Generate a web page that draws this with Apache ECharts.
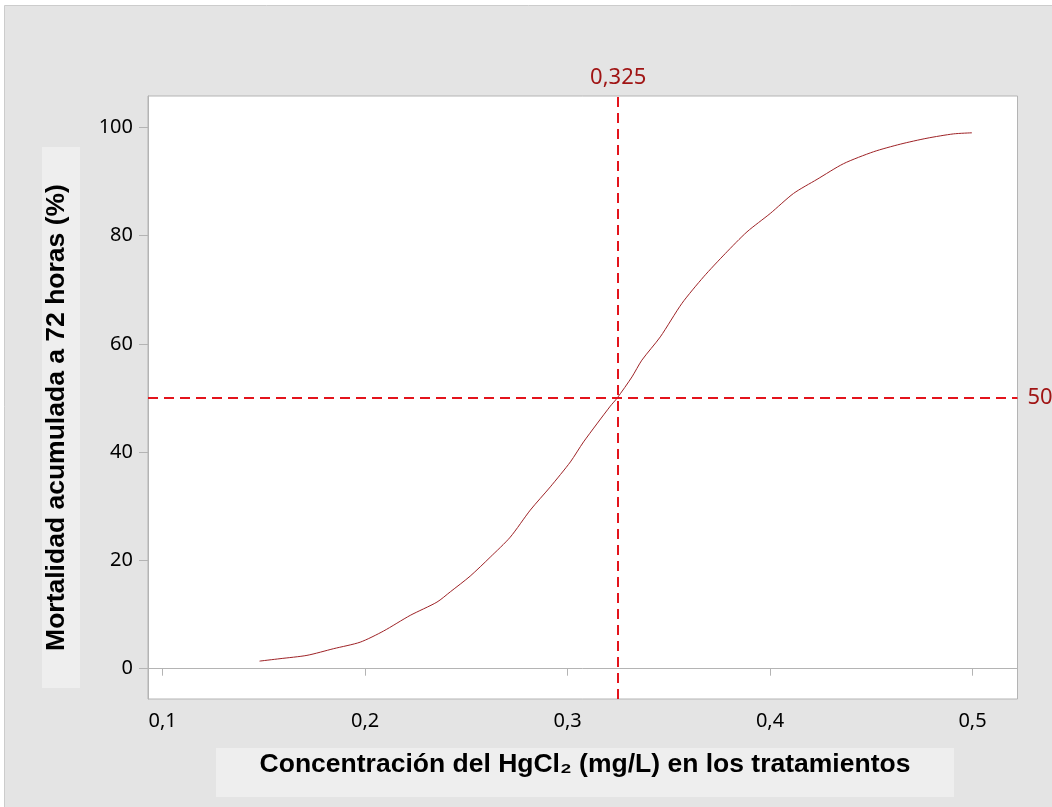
<!DOCTYPE html>
<html>
<head>
<meta charset="utf-8">
<script src="https://cdn.jsdelivr.net/npm/echarts@6/dist/echarts.min.js"></script>
<style>
html,body{margin:0;padding:0;background:#ffffff;}
#chart{width:1052px;height:807px;}
</style>
</head>
<body>
<div id="chart"></div>
<script>
// Data
const concentration = [0.1479, 0.158, 0.1713, 0.1845, 0.1976, 0.2091, 0.2223, 0.2355, 0.2421, 0.2519, 0.2618, 0.2717, 0.2816, 0.2915, 0.3014, 0.3079, 0.3211, 0.3245, 0.3318, 0.3367, 0.3458, 0.3565, 0.3672, 0.3779, 0.3886, 0.4001, 0.4116, 0.4232, 0.4363, 0.4511, 0.4643, 0.4775, 0.4906, 0.4997];
const mortality = [1.4, 1.85, 2.46, 3.7, 4.9, 6.95, 9.85, 12.3, 14.2, 17.1, 20.6, 24.3, 29.3, 33.6, 38.2, 41.9, 48.5, 50.0, 53.9, 57.0, 61.3, 67.5, 72.4, 76.7, 80.7, 84.1, 87.8, 90.4, 93.3, 95.5, 96.9, 98.0, 98.8, 99.0];
const xTicks = [0.1, 0.2, 0.3, 0.4, 0.5];
const yTicks = [0, 20, 40, 60, 80, 100];
const lc50 = 0.325;
const refLevel = 50;
const xTitle = 'Concentración del HgCl₂ (mg/L) en los tratamientos';
const yTitle = 'Mortalidad acumulada a 72 horas (%)';

const chart = echarts.init(document.getElementById('chart'), null, {renderer: 'canvas'});
const fmt = v => String(v).replace('.', ',');
const axisGrey = '#b4b4b4';

const option = {
  animation: false,
  backgroundColor: '#ffffff',
  graphic: [
    {type: 'rect', z: -10, silent: true, shape: {x: 4.5, y: 5.5, width: 1100, height: 900},
      style: {fill: '#e4e4e4', stroke: '#cccccc', lineWidth: 1}},
    {type: 'rect', z: -9, silent: true, shape: {x: 216, y: 748, width: 738, height: 49},
      style: {fill: '#eeeeee'}},
    {type: 'rect', z: -9, silent: true, shape: {x: 42, y: 147, width: 38, height: 541},
      style: {fill: '#eeeeee'}},
    {type: 'text', z: 10, silent: true, x: 585, y: 765,
      style: {text: xTitle, fill: '#000000', font: 'bold 26.5px "Liberation Sans", Arial, sans-serif',
        textAlign: 'center', textVerticalAlign: 'middle'}},
    {type: 'text', z: 10, silent: true, x: 57, y: 417.5, rotation: Math.PI / 2,
      style: {text: yTitle, fill: '#000000', font: 'bold 26.5px "Liberation Sans", Arial, sans-serif',
        textAlign: 'center', textVerticalAlign: 'middle'}}
  ],
  grid: {
    left: 148, right: 34.5, top: 96, bottom: 108,
    show: true, backgroundColor: '#ffffff', borderColor: axisGrey, borderWidth: 1,
    containLabel: false, outerBoundsMode: 'none'
  },
  xAxis: {
    type: 'value', min: 0.0928, max: 0.5222,
    axisLine: {show: true, lineStyle: {color: axisGrey, width: 1}},
    axisTick: {show: true, length: 7, lineStyle: {color: axisGrey}, customValues: xTicks},
    axisLabel: {show: true, customValues: xTicks, formatter: v => fmt(v), margin: 12,
      color: '#000000', fontSize: 20, fontFamily: '"Noto Sans", sans-serif'},
    splitLine: {show: false}
  },
  yAxis: {
    type: 'value', min: -5.6, max: 105.8,
    axisLine: {show: true, lineStyle: {color: axisGrey, width: 1}},
    axisTick: {show: true, length: 9, lineStyle: {color: axisGrey}, customValues: yTicks},
    axisLabel: {show: true, customValues: yTicks, formatter: v => fmt(v), margin: 15,
      color: '#000000', fontSize: 20, fontFamily: '"Noto Sans", sans-serif'},
    splitLine: {show: false}
  },
  series: [{
    type: 'line',
    data: concentration.map((x, i) => [x, mortality[i]]),
    showSymbol: false,
    smooth: 0.25,
    lineStyle: {color: '#9e2226', width: 1},
    itemStyle: {color: '#9e2226'},
    markLine: {
      silent: true,
      precision: 4,
      symbol: ['none', 'none'],
      lineStyle: {color: '#e3141c', type: [10, 6], width: 2},
      label: {color: '#a01515', fontSize: 22, fontFamily: '"Noto Sans", sans-serif'},
      emphasis: {disabled: true},
      data: [
        {xAxis: lc50, label: {formatter: fmt(lc50), position: 'end', distance: 7}},
        {yAxis: refLevel, label: {formatter: String(refLevel), position: 'end', distance: 10}}
      ]
    }
  }]
};
chart.setOption(option);
</script>
</body>
</html>
